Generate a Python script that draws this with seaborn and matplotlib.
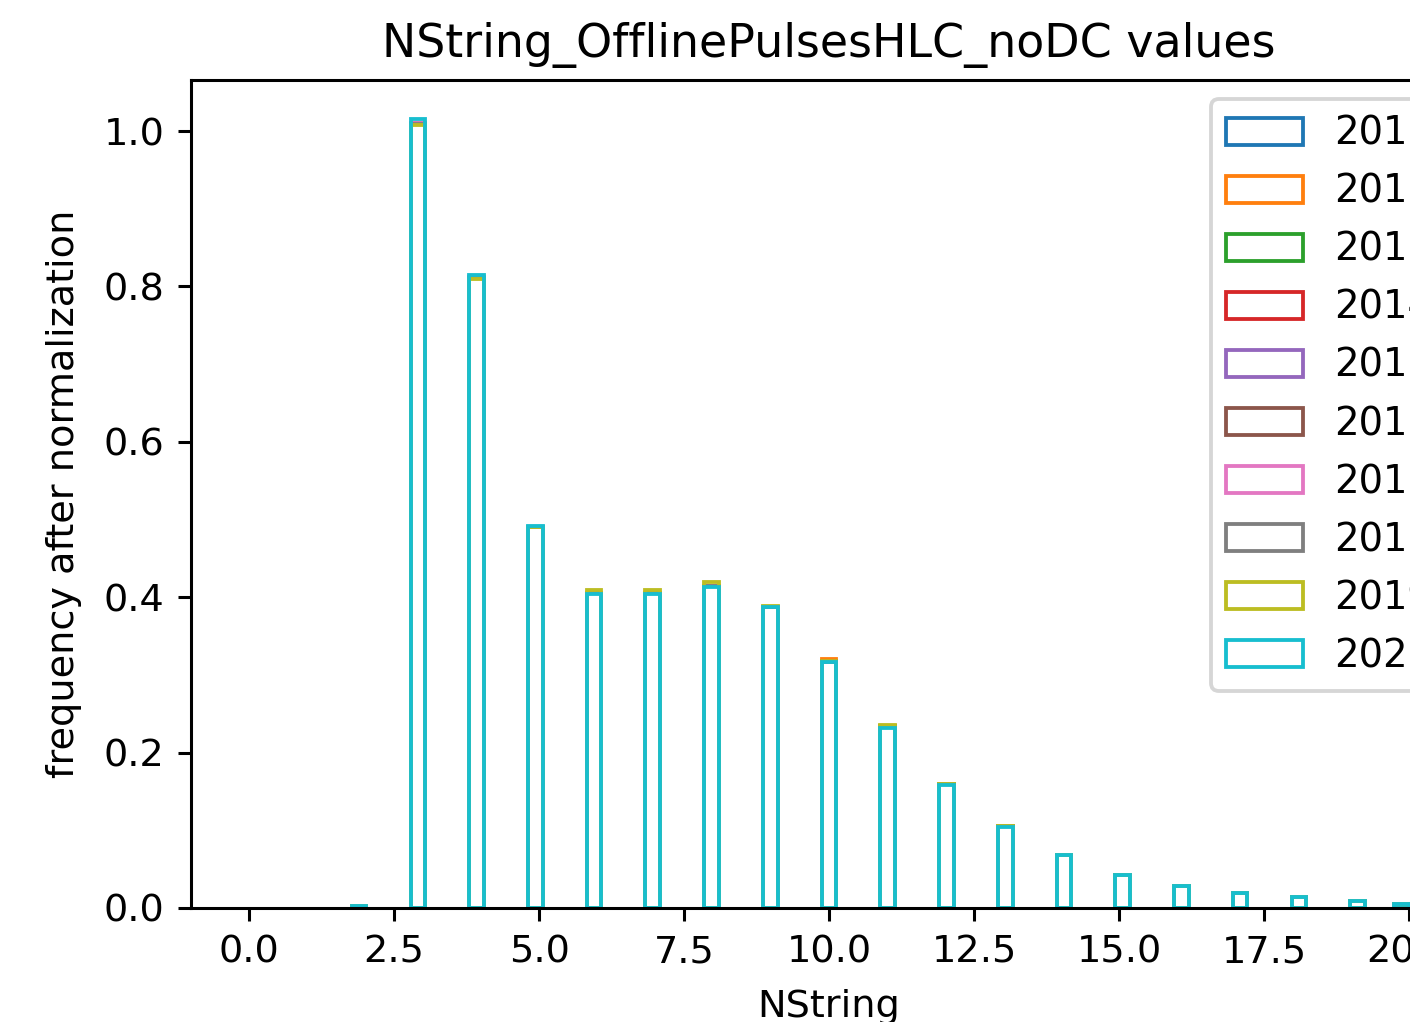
import numpy as np
import pandas as pd
import matplotlib
matplotlib.use("Agg")
import matplotlib.pyplot as plt
import matplotlib.patches as mpatches
import seaborn as sns

# ---- data ----
nstring = [2, 3, 4, 5, 6, 7, 8, 9, 10, 11, 12, 13, 14, 15, 16, 17, 18, 19, 20]
years = ["2011", "2012", "2013", "2014", "2015", "2016", "2017", "2018", "2019", "2020"]

f2011 = [0.003, 1.010, 0.812, 0.491, 0.405, 0.405, 0.414, 0.388, 0.317, 0.233, 0.159, 0.105, 0.068, 0.043, 0.028, 0.019, 0.014, 0.009, 0.005]
f2012 = [0.003, 1.011, 0.811, 0.490, 0.406, 0.406, 0.415, 0.387, 0.320, 0.234, 0.160, 0.105, 0.068, 0.043, 0.028, 0.019, 0.014, 0.009, 0.005]
f2013 = [0.003, 1.009, 0.812, 0.491, 0.405, 0.405, 0.414, 0.388, 0.317, 0.233, 0.159, 0.105, 0.068, 0.043, 0.028, 0.019, 0.014, 0.009, 0.005]
f2014 = [0.003, 1.010, 0.811, 0.491, 0.405, 0.405, 0.414, 0.388, 0.318, 0.233, 0.159, 0.105, 0.068, 0.043, 0.028, 0.019, 0.014, 0.009, 0.005]
f2015 = [0.003, 1.009, 0.812, 0.490, 0.405, 0.405, 0.414, 0.388, 0.317, 0.233, 0.159, 0.105, 0.068, 0.043, 0.028, 0.019, 0.014, 0.009, 0.005]
f2016 = [0.003, 1.010, 0.811, 0.491, 0.405, 0.405, 0.414, 0.388, 0.317, 0.234, 0.160, 0.106, 0.068, 0.043, 0.028, 0.019, 0.014, 0.009, 0.005]
f2017 = [0.003, 1.011, 0.812, 0.491, 0.405, 0.405, 0.414, 0.388, 0.317, 0.233, 0.159, 0.105, 0.068, 0.043, 0.028, 0.019, 0.014, 0.009, 0.005]
f2018 = [0.003, 1.009, 0.811, 0.490, 0.405, 0.405, 0.414, 0.388, 0.317, 0.233, 0.159, 0.105, 0.068, 0.043, 0.028, 0.019, 0.014, 0.009, 0.005]
f2019 = [0.003, 1.008, 0.810, 0.491, 0.409, 0.409, 0.419, 0.389, 0.318, 0.236, 0.160, 0.105, 0.068, 0.043, 0.028, 0.019, 0.014, 0.009, 0.005]
f2020 = [0.003, 1.015, 0.815, 0.492, 0.404, 0.404, 0.413, 0.388, 0.316, 0.232, 0.158, 0.104, 0.068, 0.043, 0.028, 0.019, 0.014, 0.009, 0.005]

series = [f2011, f2012, f2013, f2014, f2015, f2016, f2017, f2018, f2019, f2020]

title = "NString_OfflinePulsesHLC_noDC values"
xlabel = "NString"
ylabel = "frequency after normalization"

# ---- figure ----
DPI = 275
W, H = 1410, 1022
fig = plt.figure(figsize=(W / DPI, H / DPI), dpi=DPI)
ax = fig.add_axes([191 / W, (H - 908) / H, (1467 - 191) / W, (908 - 80) / H])

palette = sns.color_palette("tab10", len(years))

for yr, vals, col in zip(years, series, palette):
    df = pd.DataFrame({"NString": nstring, "w": vals})
    sns.histplot(data=df, x="NString", weights="w", bins=79, binrange=(0, 20),
                 element="bars", fill=False, color=col, linewidth=1.0, ax=ax)

# hide empty bins (zero-height outlines lying on the axis)
for p in ax.patches:
    if p.get_height() == 0:
        p.set_visible(False)

ax.set_xlim(-1, 21)
ax.set_title(title)
ax.set_xlabel(xlabel, labelpad=4.8)
ax.set_ylabel(ylabel, labelpad=5.5)

handles = [mpatches.Patch(fill=False, edgecolor=c, linewidth=1.0, label=y)
           for y, c in zip(years, palette)]
ax.legend(handles=handles, loc="upper right", fontsize=10.1, labelspacing=0.52)

fig.savefig("out.png", dpi=DPI)
